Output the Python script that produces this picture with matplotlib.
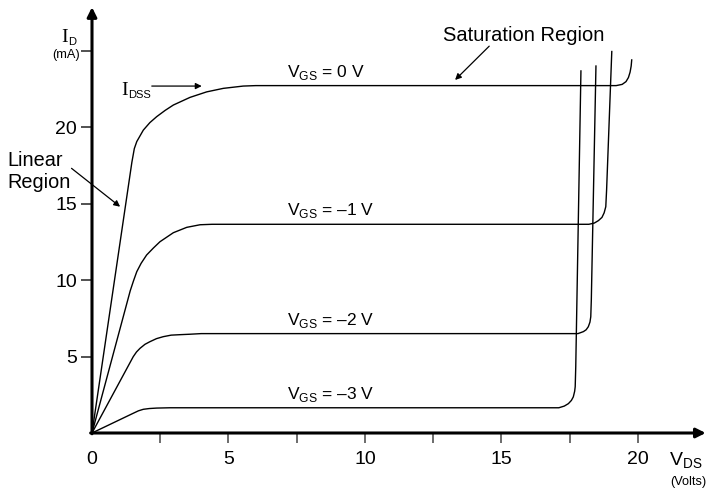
import matplotlib.pyplot as plt

plt.rcParams['font.family'] = ['Liberation Sans', 'DejaVu Sans']
plt.rcParams['mathtext.fontset'] = 'custom'
plt.rcParams['mathtext.rm'] = 'Liberation Sans'

# ---- data (V_DS in volts, I_D in mA) ----
vgs_labels = ['0', '–1', '–2', '–3']

vds_0 = [0, 1.46, 1.55, 1.64, 1.88, 2.12, 2.37, 2.68, 2.98, 3.59, 4.20, 4.81, 5.54, 6.0,
         19.2, 19.42, 19.56, 19.65, 19.71, 19.75, 19.77]
id_0 = [0, 17.7, 18.6, 19.06, 19.81, 20.3, 20.69, 21.1, 21.45, 21.95, 22.31, 22.54, 22.69, 22.72,
        22.72, 22.8, 22.98, 23.25, 23.6, 24.0, 24.4]

vds_1 = [0, 1.40, 1.52, 1.64, 1.8, 2.0, 2.25, 2.49, 2.98, 3.47, 3.96, 4.4,
         18.2, 18.4, 18.55, 18.68, 18.76, 18.82, 18.85, 19.04]
id_1 = [0, 9.3, 9.95, 10.55, 11.1, 11.64, 12.1, 12.51, 13.1, 13.45, 13.62, 13.65,
        13.65, 13.73, 13.89, 14.1, 14.4, 14.8, 15.9, 24.95]

vds_2 = [0, 1.51, 1.63, 1.76, 1.94, 2.12, 2.36, 2.61, 2.9, 3.22, 3.59, 4.0,
         17.8, 18.0, 18.1, 18.18, 18.24, 18.27, 18.29, 18.46]
id_2 = [0, 4.99, 5.3, 5.54, 5.8, 5.97, 6.17, 6.3, 6.4, 6.43, 6.46, 6.5,
        6.5, 6.63, 6.75, 6.95, 7.25, 7.6, 8.7, 24.0]

vds_3 = [0, 1.51, 1.7, 1.88, 2.1, 2.37, 2.86,
         17.1, 17.3, 17.45, 17.56, 17.63, 17.68, 17.7, 17.72, 17.91]
id_3 = [0, 1.29, 1.45, 1.55, 1.6, 1.63, 1.65,
        1.65, 1.76, 1.92, 2.13, 2.36, 2.73, 3.03, 4.33, 23.68]

curves = [(vds_0, id_0), (vds_1, id_1), (vds_2, id_2), (vds_3, id_3)]
plateaus = [22.72, 13.65, 6.5, 1.65]

x_ticks = [0, 5, 10, 15, 20]
x_minor = [2.5, 7.5, 12.5, 17.5]
y_ticks = [5, 10, 15, 20, 25]
y_ticklabels = ['5', '10', '15', '20', '']

fig = plt.figure(figsize=(7.06, 4.9), dpi=100)
ax = fig.add_axes([0, 0, 1, 1])
ax.set_xlim(-3.370, 22.491)
ax.set_ylim(-3.728, 28.319)

for v, i in curves:
    ax.plot(v, i, color='black', lw=1.0, solid_joinstyle='round')

# axes drawn as arrows through the origin
for name in ['top', 'right', 'left', 'bottom']:
    ax.spines[name].set_visible(False)
ax.spines['left'].set_position(('data', 0))
ax.spines['bottom'].set_position(('data', 0))
ax.annotate('', xy=(22.48, 0), xytext=(-0.05, 0),
            arrowprops=dict(arrowstyle='-|>', lw=2.2, color='black', mutation_scale=14,
                            shrinkA=0, shrinkB=0))
ax.annotate('', xy=(0, 27.85), xytext=(0, -0.05),
            arrowprops=dict(arrowstyle='-|>', lw=2.2, color='black', mutation_scale=14,
                            shrinkA=0, shrinkB=0))

ax.set_xticks(x_ticks)
ax.set_xticks(x_minor, minor=True)
ax.set_xticklabels([str(t) for t in x_ticks])
ax.xaxis.get_major_ticks()[0].tick1line.set_visible(False)
ax.tick_params(axis='x', which='both', direction='out', length=7.2, width=1.1,
               color='#444444', pad=6.0, labelsize=14)
ax.set_yticks(y_ticks)
ax.set_yticklabels(y_ticklabels)
ax.tick_params(axis='y', direction='out', length=8, width=1.1, color='#222222',
               pad=2.8, labelsize=14)


def serif_i(x, y, sub, size=14, subsize=8):
    # serif "I" with a small sans subscript
    ax.text(x, y, 'I', family='Liberation Serif', fontsize=size, va='baseline', ha='left')
    ax.annotate(sub, xy=(x, y), xytext=(size * 0.36, -2.2), textcoords='offset points',
                fontsize=subsize, va='baseline', ha='left')


# axis titles
ax.text(21.15, -2.15, r'V$_{\mathrm{DS}}$', fontsize=14, va='baseline', ha='left')
ax.text(21.83, -3.22, '(Volts)', fontsize=9.2, va='center', ha='center')
serif_i(-1.12, 25.55, 'D')
ax.text(-0.45, 24.75, '(mA)', fontsize=9.2, va='center', ha='right')

# curve labels
for lab, p in zip(vgs_labels, plateaus):
    ax.text(7.15, p + 0.25, r'$\mathrm{V}_{\mathrm{GS}}$ = ' + lab + ' V', fontsize=12.5,
            va='bottom', ha='left')

serif_i(1.08, 22.1, 'DSS')
ax.annotate('', xy=(4.02, 22.69), xytext=(2.19, 22.69),
            arrowprops=dict(arrowstyle='-|>', lw=0.9, color='black', mutation_scale=9,
                            shrinkA=0, shrinkB=0))

ax.text(-3.11, 17.1, 'Linear\nRegion', fontsize=14.3, va='center', ha='left', linespacing=1.15)
ax.annotate('', xy=(1.03, 14.8), xytext=(-0.75, 17.31),
            arrowprops=dict(arrowstyle='-|>', lw=0.9, color='black', mutation_scale=9,
                            shrinkA=0, shrinkB=0))

ax.text(12.86, 26.0, 'Saturation Region', fontsize=14.5, va='center', ha='left')
ax.annotate('', xy=(13.3, 23.09), xytext=(14.55, 25.3),
            arrowprops=dict(arrowstyle='-|>', lw=0.9, color='black', mutation_scale=9,
                            shrinkA=0, shrinkB=0))

fig.savefig('out.png', dpi=100)
